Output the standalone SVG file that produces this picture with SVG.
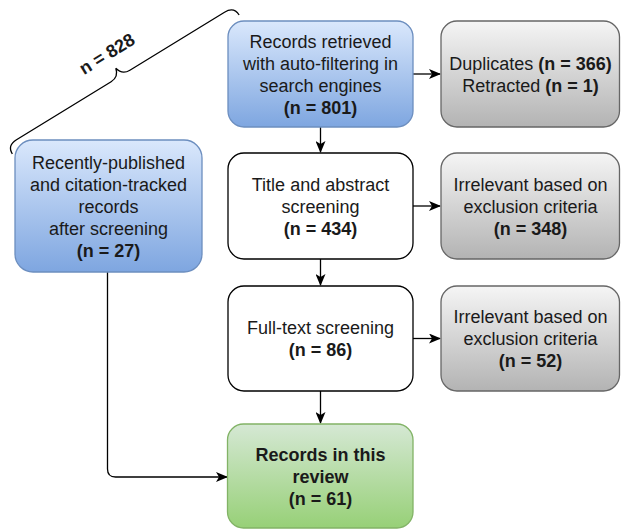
<svg xmlns="http://www.w3.org/2000/svg" width="621" height="529" viewBox="0 0 621 529">
<defs>
<linearGradient id="gBlue" x1="0" y1="0" x2="0" y2="1"><stop offset="0" stop-color="#dae8fc"/><stop offset="1" stop-color="#7ea6e0"/></linearGradient>
<linearGradient id="gGray" x1="0" y1="0" x2="0" y2="1"><stop offset="0" stop-color="#f5f5f5"/><stop offset="1" stop-color="#b3b3b3"/></linearGradient>
<linearGradient id="gGreen" x1="0" y1="0" x2="0" y2="1"><stop offset="0" stop-color="#d5e8d4"/><stop offset="1" stop-color="#97d077"/></linearGradient>
<marker id="arr" viewBox="0 0 12 10" refX="11" refY="5" markerWidth="12" markerHeight="10" markerUnits="userSpaceOnUse" orient="auto">
<path d="M0,0 L12,5 L0,10 L3,5 Z" fill="#000"/>
</marker>
</defs>
<style>
text{font-family:"Liberation Sans",Arial,Helvetica,sans-serif;font-size:18px;fill:#1a1a1a;text-anchor:middle}
.b{font-weight:bold}
.blue{fill:url(#gBlue);stroke:#6c8ebf;stroke-width:1.3}
.gray{fill:url(#gGray);stroke:#666666;stroke-width:1.3}
.green{fill:url(#gGreen);stroke:#82b366;stroke-width:1.3}
.white{fill:#ffffff;stroke:#000000;stroke-width:1.3}
.edge{fill:none;stroke:#000;stroke-width:1.3;marker-end:url(#arr)}
</style>

<g id="brace">
<g transform="translate(120.5,76) rotate(-31.5)">
<path d="M-133,10 Q-133,0 -122,0 L-11,0 Q-2,0 0,-9 Q2,0 11,0 L122,0 Q133,0 133,10" fill="none" stroke="#000" stroke-width="1.3"/>
</g>
<text class="b" x="107" y="60" transform="rotate(-31.5,107,54)">n = 828</text>
</g>

<g id="connectors">
<path class="edge" d="M320.5,127 V152"/>
<path class="edge" d="M320.5,259 V285"/>
<path class="edge" d="M320.5,391 V423"/>
<path class="edge" d="M413,74 H440"/>
<path class="edge" d="M413,206 H440"/>
<path class="edge" d="M413,338.5 H440"/>
<path class="edge" d="M107.5,272 V469 Q107.5,477 115.5,477 H227"/>
</g>

<g id="n_retrieved">
<rect class="blue" x="228" y="21" width="185" height="106" rx="16"/>
<text x="320.5" y="47.5">Records retrieved</text>
<text x="320.5" y="69.5">with auto-filtering in</text>
<text x="320.5" y="91.5">search engines</text>
<text class="b" x="320.5" y="113.5">(n = 801)</text>
</g>

<g id="n_duplicates">
<rect class="gray" x="441" y="21" width="178.5" height="106" rx="16"/>
<text x="530.5" y="69.5">Duplicates <tspan class="b">(n = 366)</tspan></text>
<text x="530.5" y="91.5">Retracted <tspan class="b">(n = 1)</tspan></text>
</g>

<g id="n_title">
<rect class="white" x="228" y="153" width="185" height="106" rx="16"/>
<text x="320.5" y="190.5">Title and abstract</text>
<text x="320.5" y="212.5">screening</text>
<text class="b" x="320.5" y="234.5">(n = 434)</text>
</g>

<g id="n_irrel1">
<rect class="gray" x="441" y="153" width="178.5" height="106" rx="16"/>
<text x="530.5" y="190.5">Irrelevant based on</text>
<text x="530.5" y="212.5">exclusion criteria</text>
<text class="b" x="530.5" y="234.5">(n = 348)</text>
</g>

<g id="n_fulltext">
<rect class="white" x="228" y="286" width="185" height="105" rx="16"/>
<text x="320.5" y="334">Full-text screening</text>
<text class="b" x="320.5" y="356">(n = 86)</text>
</g>

<g id="n_irrel2">
<rect class="gray" x="441" y="286" width="178.5" height="105" rx="16"/>
<text x="530.5" y="323">Irrelevant based on</text>
<text x="530.5" y="345">exclusion criteria</text>
<text class="b" x="530.5" y="367">(n = 52)</text>
</g>

<g id="n_review">
<rect class="green" x="227.5" y="424" width="185.5" height="104" rx="16"/>
<text class="b" x="320.5" y="460.5">Records in this</text>
<text class="b" x="320.5" y="482.5">review</text>
<text class="b" x="320.5" y="504.5">(n = 61)</text>
</g>

<g id="n_recent">
<rect class="blue" x="15" y="140" width="187" height="132" rx="18"/>
<text x="108.5" y="168.5">Recently-published</text>
<text x="108.5" y="190.5">and citation-tracked</text>
<text x="108.5" y="212.5">records</text>
<text x="108.5" y="234.5">after screening</text>
<text class="b" x="108.5" y="256.5">(n = 27)</text>
</g>
</svg>
